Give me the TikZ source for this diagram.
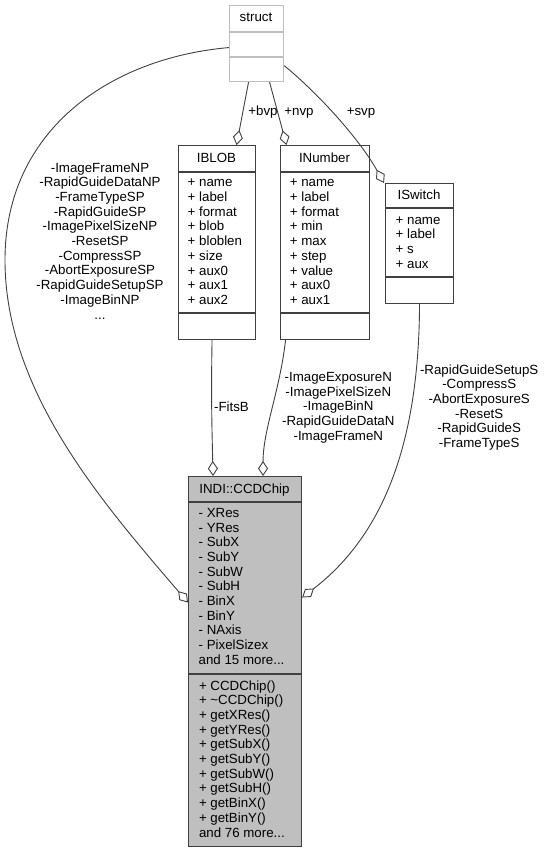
\documentclass[tikz,border=0pt]{standalone}
\usepackage{fontspec}
\setmainfont{Liberation Sans}
\usetikzlibrary{arrows.meta}

\newcommand{\tdots}{...}
% one text line per member, baselines 14.7 apart
\newcommand{\memberlist}[5][base west]{%
  \foreach \m [count=\k from 0] in {#5}
    \node[txt, anchor=#1, name=#2-\k] at (#3,#4+14.7*\k) {\m};}

\begin{document}
\begin{tikzpicture}[x=1pt,y=-1pt,
    txt/.style={inner sep=0pt,font=\fontsize{13.3}{14.7}\selectfont},
    box/.style={draw=black!75,line width=1.1pt,fill=white,inner sep=0pt,anchor=north west},
    divider/.style={draw=black!75,line width=1.5pt},
    owns/.style={draw=black!75,line width=0.9pt,-{Diamond[open,length=15pt,width=10pt]}}]
  \useasboundingbox (0,0) rectangle (546,852);

  % struct
  \node[box,draw=black!25,minimum width=54pt,minimum height=76pt] (struct) at (229,5) {};
  \draw[black!25,line width=1.1pt] (229,32) -- (283,32) (229,57) -- (283,57);
  \node[txt,anchor=base] (structtitle) at (256,21.5) {struct};

  % IBLOB
  \node[box,minimum width=77pt,minimum height=194pt] (iblob) at (178,145) {};
  \draw[divider] (178,172) -- (255,172) (178,313) -- (255,313);
  \node[txt,anchor=base] (iblobtitle) at (216.5,162.5) {IBLOB};
  \memberlist{iblob}{187.5}{186.8}{+ name,+ label,+ format,+ blob,+ bloblen,+ size,+ aux0,+ aux1,+ aux2}

  % INumber
  \node[box,minimum width=89pt,minimum height=194pt] (inumber) at (280,145) {};
  \draw[divider] (280,172) -- (369,172) (280,313) -- (369,313);
  \node[txt,anchor=base] (inumbertitle) at (324.5,162.5) {INumber};
  \memberlist{inumber}{289.7}{186.8}{+ name,+ label,+ format,+ min,+ max,+ step,+ value,+ aux0,+ aux1}

  % ISwitch
  \node[box,minimum width=68pt,minimum height=120pt] (iswitch) at (385,183) {};
  \draw[divider] (385,208) -- (453,208) (385,277) -- (453,277);
  \node[txt,anchor=base] (iswitchtitle) at (419,199.3) {ISwitch};
  \memberlist{iswitch}{395.5}{224}{+ name,+ label,+ s,+ aux}

  % INDI::CCDChip
  \node[box,fill=black!25,minimum width=113pt,minimum height=370pt] (ccd) at (188,476) {};
  \draw[divider] (188,502) -- (301,502) (188,674) -- (301,674);
  \node[txt,anchor=base] (ccdtitle) at (244.5,493.5) {INDI::CCDChip};
  \memberlist{ccdattr}{198.5}{517.3}{- XRes,- YRes,- SubX,- SubY,- SubW,- SubH,- BinX,- BinY,- NAxis,- PixelSizex,and 15 more\tdots}
  \memberlist{ccdop}{198.8}{690}{+ CCDChip(),+ \textasciitilde CCDChip(),+ getXRes(),+ getYRes(),+ getSubX(),+ getSubY(),+ getSubW(),+ getSubH(),+ getBinX(),+ getBinY(),and 76 more\tdots}

  % connectors
  \draw[owns] ([xshift=-8pt]struct.south) -- ([xshift=19.5pt]iblob.north);
  \draw[owns] ([xshift=13pt]struct.south) -- ([xshift=-38.5pt]inumber.north);
  \draw[owns] ([yshift=-22pt]struct.east) .. controls (320,95) and (360,140) .. ([xshift=-1pt]iswitch.north west);
  \draw[owns] ([yshift=-4pt]struct.west) .. controls (110,58) and (5,130) .. (5,260)
    .. controls (5,390) and (100,500) .. ([yshift=59pt]ccd.west);
  \draw[owns] ([xshift=-5pt]iblob.south) .. controls (211,400) and (212,430) .. ([xshift=-32pt]ccd.north);
  \draw[owns] ([xshift=-39.5pt]inumber.south) .. controls (280,390) and (263,430) .. ([xshift=18pt]ccd.north);
  \draw[owns] (iswitch.south) .. controls (419,430) and (390,530) .. ([yshift=64pt]ccd.east);

  % connector labels
  \node[txt,anchor=base] (bvp) at (263,115) {+bvp};
  \node[txt,anchor=base] (nvp) at (299,115) {+nvp};
  \node[txt,anchor=base] (svp) at (361,115) {+svp};
  \memberlist[base]{np}{100}{172}{-ImageFrameNP,-RapidGuideDataNP,-FrameTypeSP,-RapidGuideSP,-ImagePixelSizeNP,-ResetSP,-CompressSP,-AbortExposureSP,-RapidGuideSetupSP,-ImageBinNP,\tdots}
  \node[txt,anchor=base] (fitsb) at (231.5,411) {-FitsB};
  \memberlist[base]{nn}{338.3}{381.5}{-ImageExposureN,-ImagePixelSizeN,-ImageBinN,-RapidGuideDataN,-ImageFrameN}
  \memberlist[base]{ns}{479.2}{374}{-RapidGuideSetupS,-CompressS,-AbortExposureS,-ResetS,-RapidGuideS,-FrameTypeS}
\end{tikzpicture}
\end{document}
